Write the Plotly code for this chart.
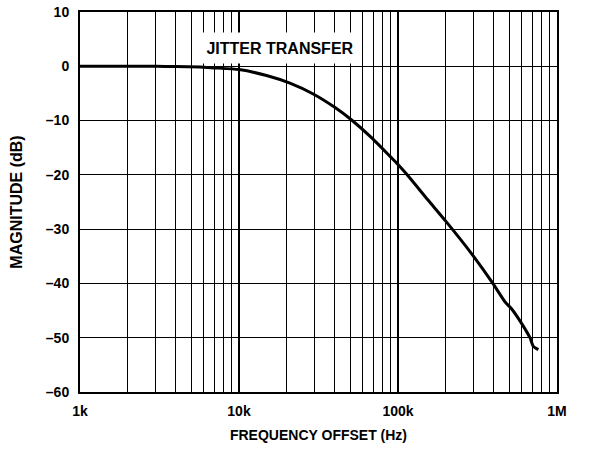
import plotly.graph_objects as go

freq_hz = [1000, 2000, 3000, 4000, 5690, 7000, 10000, 14900, 20900, 29300, 40200,
           51100, 68400, 89100, 100000, 113500, 154000, 202000, 290000, 395000,
           471000, 519000, 600000, 676000, 710000, 763000]
magnitude_db = [0, 0, 0, -0.05, -0.15, -0.3, -0.6, -1.7, -3.1, -5.1, -7.6,
                -9.9, -13.2, -16.6, -18.1, -19.9, -24.6, -28.7, -34.5, -40.0,
                -43.4, -44.7, -47.4, -50.0, -51.6, -52.2]

x_tickvals = [1e3, 1e4, 1e5, 1e6]
x_ticktext = ["1k", "10k", "100k", "1M"]
y_tickvals = [10, 0, -10, -20, -30, -40, -50, -60]
y_ticktext = ["10", "0", "–10", "–20", "–30", "–40", "–50", "–60"]

FONT = "Liberation Sans, Arial, sans-serif"

fig = go.Figure()
fig.add_trace(go.Scatter(
    x=freq_hz, y=magnitude_db, mode="lines",
    line=dict(color="black", width=3, shape="spline", smoothing=0.5),
    showlegend=False, hoverinfo="skip",
))

fig.add_annotation(
    x=4.258, y=3.3, xref="x", yref="y",
    text="<b>JITTER TRANSFER</b>", showarrow=False,
    font=dict(family=FONT, size=16, color="black"),
    bgcolor="white", width=160, height=28,
)

fig.update_xaxes(
    type="log", range=[3, 6],
    tickvals=x_tickvals, ticktext=x_ticktext,
    tickfont=dict(family=FONT, size=14, color="black", weight="bold"),
    showgrid=True, gridcolor="black", gridwidth=2,
    minor=dict(dtick="D1", showgrid=True, gridcolor="black", gridwidth=1, ticks=""),
    showline=True, linecolor="black", linewidth=2, mirror=True,
    ticks="", zeroline=False, ticklabelstandoff=5,
    title=dict(text="<b>FREQUENCY OFFSET (Hz)</b>", standoff=12,
               font=dict(family=FONT, size=14, color="black")),
)
fig.update_yaxes(
    range=[-60, 10],
    tickvals=y_tickvals, ticktext=y_ticktext,
    tickfont=dict(family=FONT, size=14, color="black", weight="bold"),
    showgrid=True, gridcolor="black", gridwidth=1,
    showline=True, linecolor="black", linewidth=2, mirror=True,
    ticks="", zeroline=False, ticklabelstandoff=6,
    title=dict(text="<b>MAGNITUDE (dB)</b>", standoff=19,
               font=dict(family=FONT, size=16, color="black")),
)

fig.update_layout(
    width=591, height=450,
    margin=dict(l=80, r=34, t=12, b=58, autoexpand=False),
    plot_bgcolor="white", paper_bgcolor="white",
)

fig.write_html("out.html", config={"displayModeBar": False},
               post_script="document.body.style.margin='0';")
